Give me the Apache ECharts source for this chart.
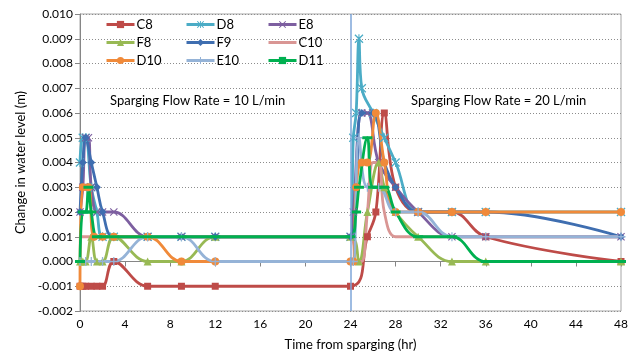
<!DOCTYPE html>
<html>
<head>
<meta charset="utf-8">
<script src="https://cdn.jsdelivr.net/npm/echarts@6/dist/echarts.min.js"></script>
<style>
  html, body { margin: 0; padding: 0; background: #fff; }
  #chart { width: 634px; height: 356px; }
</style>
</head>
<body>
<div id="chart"></div>
<script>
// [time (hr), change in water level (m)]
const C8 = [[0, -0.001], [0.25, -0.001], [0.5, -0.001], [1, -0.001], [1.5, -0.001], [2, -0.001], [3, 0], [6, -0.001], [9, -0.001], [12, -0.001], [24, -0.001],
    [25.5, 0.001], [26.25, 0.002], [27, 0.006], [28, 0.003], [30, 0.002], [33, 0.002], [36, 0.001], [48, 0]];
const D8 = [[0, 0.004], [0.25, 0.005], [0.5, 0.005], [1, 0.003], [1.5, 0.002], [2, 0.001], [3, 0.001], [6, 0.001], [9, 0.001], [12, 0.001], [24, 0.001],
    [24.25, 0.005], [24.5, 0.006], [24.75, 0.009], [25, 0.007], [26, 0.006], [27, 0.005], [28, 0.004], [30, 0.002], [33, 0.002], [36, 0.002], [48, 0.002]];
const E8 = [[0, 0.002], [0.25, 0.003], [0.5, 0.005], [0.75, 0.005], [1, 0.003], [1.5, 0.002], [2, 0.002], [3, 0.002], [6, 0.001], [9, 0.001], [12, 0.001], [24, 0.001],
    [24.25, 0.002], [25, 0.006], [25.5, 0.006], [26.5, 0.004], [28, 0.003], [30, 0.002], [33, 0.001], [36, 0.001], [48, 0.001]];
const F8 = [[0, 0], [0.25, 0], [0.5, 0], [1, 0.001], [1.5, 0], [2, 0], [3, 0.001], [6, 0], [9, 0], [12, 0.001], [24, 0.001],
    [24.75, 0], [25.5, 0.002], [26.5, 0.004], [27, 0.003], [28, 0.002], [30, 0.001], [33, 0], [36, 0], [48, 0]];
const F9 = [[0, 0.002], [0.25, 0.004], [0.5, 0.005], [1, 0.004], [1.5, 0.003], [2, 0.002], [3, 0.001], [6, 0.001], [9, 0.001], [12, 0.001], [24, 0.001],
    [24.5, 0.003], [25, 0.006], [26, 0.006], [27, 0.004], [28, 0.003], [30, 0.002], [33, 0.002], [36, 0.002], [48, 0.001]];
const C10 = [[0, 0.001], [0.5, 0.001], [1, 0.001], [3, 0.001], [6, 0.001], [9, 0.001], [12, 0.001], [24, 0.001],
    [24.5, 0], [25, 0], [25.5, 0.002], [26, 0.004], [26.5, 0.004], [27, 0.002], [28, 0.001], [30, 0.001], [33, 0.001], [36, 0.001], [48, 0.001]];
const D10 = [[0, -0.001], [0.25, 0.003], [0.75, 0.003], [1.25, 0.001], [2, 0.001], [3, 0.001], [6, 0.001], [9, 0], [12, 0], [24, 0],
    [24.25, 0], [24.5, 0.003], [25, 0.004], [25.5, 0.004], [26.25, 0.006], [27, 0.004], [28, 0.002], [30, 0.002], [33, 0.002], [36, 0.002], [48, 0.002]];
const E10 = [[0, 0], [0.5, 0], [1, 0], [2, 0], [3, 0], [6, 0.001], [9, 0.001], [12, 0], [24, 0],
    [24.25, 0], [24.75, 0.005], [25.5, 0.003], [26.5, 0.003], [28, 0.002], [30, 0.002], [33, 0.001], [36, 0.001], [48, 0.001]];
const D11 = [[0, 0], [0.25, 0.002], [0.5, 0.002], [0.75, 0.003], [1, 0.002], [1.5, 0.001], [2, 0.001], [3, 0.001], [6, 0.001], [9, 0.001], [12, 0.001], [24, 0.001],
    [24.5, 0.002], [24.75, 0.003], [25.5, 0.005], [26, 0.003], [27, 0.003], [28, 0.002], [30, 0.001], [33, 0.001], [36, 0], [48, 0]];

const sparge24 = 24;
const font = 'Lato, "Liberation Sans", sans-serif';

// marker shapes drawn like the excel ones
const xMark = 'path://M0,1 L1,0 L5,4 L9,0 L10,1 L6,5 L10,9 L9,10 L5,6 L1,10 L0,9 L4,5 Z';
const starMark = 'path://M0,1 L1,0 L5,4 L9,0 L10,1 L6,5 L10,9 L9,10 L5,6 L1,10 L0,9 L4,5 Z M4.4,0 L5.6,0 L5.6,10 L4.4,10 Z';
const plusMark = 'path://M4.3,0 L5.7,0 L5.7,4.3 L10,4.3 L10,5.7 L5.7,5.7 L5.7,10 L4.3,10 L4.3,5.7 L0,5.7 L0,4.3 L4.3,4.3 Z';
const plainLine = 'path://M0,0 L28,0 L28,3 L0,3 Z';

const seriesDefs = [
    { name: 'C8', data: C8, color: '#BE4B48', symbol: 'rect', size: 7 },
    { name: 'D8', data: D8, color: '#4BACC6', symbol: starMark, size: 9 },
    { name: 'E8', data: E8, color: '#7D5FA0', symbol: xMark, size: 8 },
    { name: 'F8', data: F8, color: '#98B954', symbol: 'triangle', size: 8 },
    { name: 'F9', data: F9, color: '#3F6EB0', symbol: 'diamond', size: 8 },
    { name: 'C10', data: C10, color: '#D99694', symbol: 'none', size: 0 },
    { name: 'D10', data: D10, color: '#F08A3A', symbol: 'circle', size: 8 },
    { name: 'E10', data: E10, color: '#95B3D7', symbol: plusMark, size: 9 },
    { name: 'D11', data: D11, color: '#00B050', symbol: 'rect', size: [10, 3] },
];

const series = seriesDefs.map(s => ({
    name: s.name,
    type: 'line',
    smooth: 0.4,
    data: s.data,
    symbol: s.symbol,
    symbolSize: s.size,
    showSymbol: s.symbol !== 'none',
    color: s.color,
    lineStyle: { width: 2.8, color: s.color },
    itemStyle: { color: s.color },
}));

// the thin vertical line where the flow rate changes
series.push({
    name: 'switch',
    type: 'line',
    data: [],
    silent: true,
    markLine: {
        symbol: 'none',
        silent: true,
        label: { show: false },
        lineStyle: { type: 'solid', color: '#7EA6D8', width: 1.5 },
        data: [{ xAxis: sparge24 }],
    },
});

const legendBase = {
    orient: 'vertical',
    top: 13,
    itemWidth: 28,
    itemHeight: 9,
    itemGap: 5,
    lineStyle: { width: 3 },
    textStyle: { fontFamily: font, fontSize: 13, color: '#000', padding: [0, 0, 0, -3] },
};

const option = {
    animation: false,
    backgroundColor: '#fff',
    grid: {
        left: 80, right: 13, top: 14, bottom: 43,
        show: true, borderColor: '#A6A6A6', borderWidth: 1,
    },
    legend: [
        Object.assign({}, legendBase, { left: 100, data: ['C8', 'F8', 'D10'] }),
        Object.assign({}, legendBase, { left: 180, data: ['D8', 'F9', 'E10'] }),
        Object.assign({}, legendBase, { left: 262, data: ['E8', { name: 'C10', icon: plainLine }, 'D11'] }),
    ],
    xAxis: {
        type: 'value',
        min: 0, max: 48, interval: 4,
        name: 'Time from sparging (hr)',
        nameLocation: 'middle',
        nameGap: 27,
        nameTextStyle: { fontFamily: font, fontSize: 13, color: '#000' },
        axisLine: { lineStyle: { color: '#868686' } },
        axisTick: { show: true, length: 5, lineStyle: { color: '#868686' } },
        axisLabel: { fontFamily: font, fontSize: 12, color: '#000', margin: 7 },
        splitLine: { show: false },
    },
    yAxis: {
        type: 'value',
        min: -0.002, max: 0.010, interval: 0.001,
        name: 'Change in water level (m)',
        nameLocation: 'middle',
        nameGap: 53,
        nameTextStyle: { fontFamily: font, fontSize: 13, color: '#000' },
        axisLine: { show: true, lineStyle: { color: '#868686' } },
        axisTick: { show: true, length: 5, lineStyle: { color: '#868686' } },
        axisLabel: {
            fontFamily: font, fontSize: 12, color: '#000', margin: 7,
            formatter: v => v.toFixed(3),
        },
        splitLine: { show: true, lineStyle: { type: [1, 2], color: '#8C8C8C', width: 1 } },
    },
    graphic: [
        { type: 'text', left: 110, top: 94, style: { text: 'Sparging Flow Rate = 10 L/min', fontFamily: font, fontSize: 13, fill: '#000' } },
        { type: 'text', left: 411, top: 94, style: { text: 'Sparging Flow Rate = 20 L/min', fontFamily: font, fontSize: 13, fill: '#000' } },
    ],
    series: series,
};

const chart = echarts.init(document.getElementById('chart'));
chart.setOption(option);
</script>
</body>
</html>
